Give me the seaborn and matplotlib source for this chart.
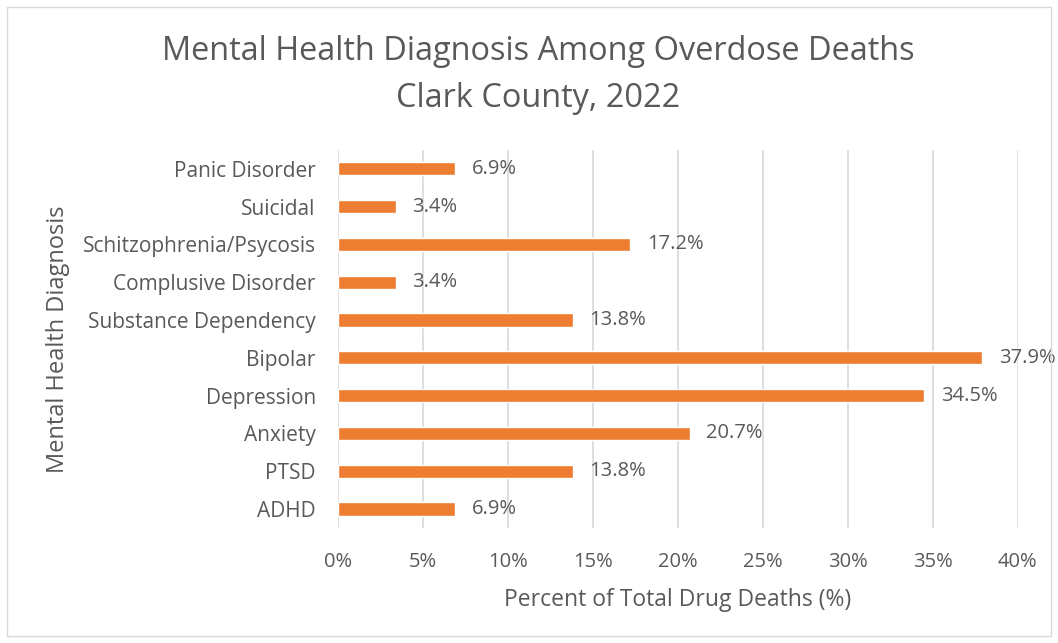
import matplotlib
matplotlib.use("Agg")
import matplotlib.pyplot as plt
import seaborn as sns
import pandas as pd
from matplotlib.patches import Rectangle

categories = ["Panic Disorder", "Suicidal", "Schitzophrenia/Psycosis", "Complusive Disorder",
              "Substance Dependency", "Bipolar", "Depression", "Anxiety", "PTSD", "ADHD"]
values = [6.9, 3.4, 17.2, 3.4, 13.8, 37.9, 34.5, 20.7, 13.8, 6.9]
xticks = [0, 5, 10, 15, 20, 25, 30, 35, 40]

df = pd.DataFrame({"diag": categories, "pct": values})

sns.set_theme(style="white")
plt.rcParams["font.family"] = ["Open Sans", "DejaVu Sans"]
txt = "#595959"

fig = plt.figure(figsize=(10.58, 6.43), dpi=100)
ax = fig.add_axes([0.3195, 0.179, 0.6425, 0.588])

sns.barplot(data=df, y="diag", x="pct", color="#ED7D31", saturation=1, width=0.35, ax=ax, zorder=3)

ax.set_xlim(0, 40)
ax.set_xticks(xticks)
ax.set_xticklabels([f"{t}%" for t in xticks], color=txt, fontsize=14.5)
ax.tick_params(axis="y", labelsize=15, labelcolor=txt, length=0, pad=16)
ax.tick_params(axis="x", length=0, pad=17)
ax.grid(axis="x", color="#D9D9D9", linewidth=1.2, zorder=0)
ax.grid(axis="y", visible=False)
for s in ax.spines.values():
    s.set_visible(False)

ax.bar_label(ax.containers[0], labels=[f"{v}%" for v in values], padding=12, fontsize=14.5, color=txt)

ax.set_xlabel("Percent of Total Drug Deaths (%)", fontsize=16.5, color=txt, labelpad=12)
ax.set_ylabel("Mental Health Diagnosis", fontsize=17, color=txt, labelpad=9)

fig.text(0.5085, 0.920, "Mental Health Diagnosis Among Overdose Deaths", ha="center", va="center",
         fontsize=23.4, color=txt)
fig.text(0.5085, 0.847, "Clark County, 2022", ha="center", va="center", fontsize=23.4, color=txt)

fig.patches.append(Rectangle((7/1058, 7/643), 1 - 14/1058, 1 - 14/643, transform=fig.transFigure,
                             fill=False, edgecolor="#D9D9D9", linewidth=1))

fig.savefig("out.png", dpi=100)
